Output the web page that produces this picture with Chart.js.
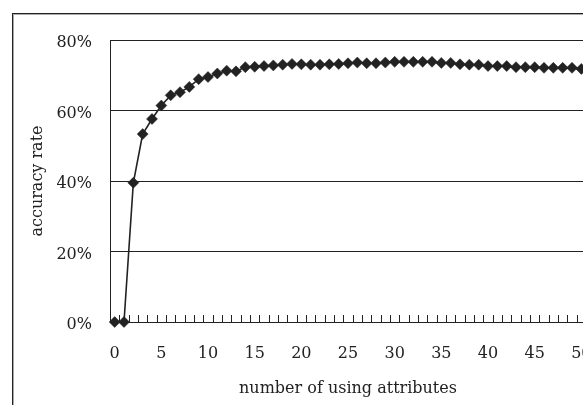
<!DOCTYPE html>
<html>
<head>
<meta charset="utf-8">
<script src="https://cdn.jsdelivr.net/npm/chart.js@4"></script>
<style>
  html, body { margin: 0; padding: 0; background: #fff; overflow: hidden; width: 583px; height: 405px; }
  #wrap { position: absolute; left: 0; top: 0; width: 600px; height: 430px; }
  #frame { position: absolute; left: 12px; top: 13px; width: 700px; height: 500px; border: 1px solid #222; box-shadow: inset 1px 1px 0 #aaa; pointer-events: none; }
</style>
</head>
<body>
<div id="wrap"><canvas id="c" width="600" height="430"></canvas></div>
<div id="frame"></div>
<script>
const categories = Array.from({length: 51}, (_, i) => String(i));
const accuracy = [
  0, 0, 39.5, 53.3, 57.6, 61.4, 64.3, 65.2, 66.7, 68.9,
  69.5, 70.5, 71.3, 71.1, 72.3, 72.4, 72.6, 72.8, 73.0, 73.2,
  73.1, 73.0, 73.0, 73.1, 73.2, 73.4, 73.6, 73.4, 73.4, 73.6,
  73.8, 73.8, 73.8, 73.8, 73.8, 73.5, 73.5, 73.1, 73.0, 73.0,
  72.6, 72.6, 72.6, 72.3, 72.3, 72.3, 72.1, 72.1, 72.1, 72.1,
  71.8
];
const yTicks = [0, 20, 40, 60, 80];
const xLabelStep = 5;

const FONT = { family: '"DejaVu Serif", serif', size: 16 };
const INK = '#222';

const innerTicks = {
  id: 'innerTicks',
  beforeDatasetsDraw(chart) {
    const xs = chart.scales.x, ys = chart.scales.y;
    const ctx = chart.ctx;
    const y0 = ys.getPixelForValue(0);
    const n = categories.length;
    const half = (xs.getPixelForValue(1) - xs.getPixelForValue(0)) / 2;
    ctx.save();
    ctx.strokeStyle = INK;
    ctx.lineWidth = 1;
    ctx.beginPath();
    for (let i = 0; i <= n; i++) {
      const x = Math.round(xs.getPixelForValue(i) - half) + 0.5;
      ctx.moveTo(x, y0);
      ctx.lineTo(x, y0 - 7);
    }
    ctx.stroke();
    ctx.restore();
  }
};

new Chart(document.getElementById('c'), {
  type: 'line',
  data: {
    labels: categories,
    datasets: [{
      data: accuracy,
      borderColor: '#222',
      borderWidth: 1.6,
      tension: 0,
      pointStyle: 'rectRot',
      pointRadius: 5.5,
      pointHoverRadius: 5.5,
      pointBackgroundColor: '#222',
      pointBorderColor: '#222',
      pointBorderWidth: 0.5,
      clip: false
    }]
  },
  options: {
    responsive: false,
    animation: false,
    events: [],
    layout: { padding: { left: 0, top: 40, right: 14, bottom: 0 } },
    plugins: { legend: { display: false }, tooltip: { enabled: false } },
    scales: {
      x: {
        type: 'category',
        offset: true,
        grid: { display: false, drawTicks: false },
        border: { display: true, color: INK, width: 1 },
        ticks: {
          autoSkip: false,
          maxRotation: 0,
          padding: 22,
          color: INK,
          font: FONT,
          callback: function(v) { return (v % xLabelStep === 0) ? categories[v] : ''; }
        },
        title: { display: true, text: 'number of using attributes', color: INK, font: FONT, padding: 32 },
        afterFit(s) { s.height = 108; s.paddingLeft = 0; s.paddingRight = 0; }
      },
      y: {
        min: 0, max: 80,
        afterBuildTicks(s) { s.ticks = yTicks.map(v => ({ value: v })); },
        grid: { color: INK, lineWidth: 1, drawTicks: false },
        border: { display: true, color: INK, width: 1 },
        ticks: {
          padding: 18,
          labelOffset: 3,
          color: INK,
          font: FONT,
          callback: v => v + '%'
        },
        title: { display: true, text: 'accuracy rate', color: INK, font: FONT, padding: 28 },
        afterFit(s) { s.width = 110; s.paddingTop = 0; s.paddingBottom = 0; }
      }
    }
  },
  plugins: [innerTicks]
});
</script>
</body>
</html>
